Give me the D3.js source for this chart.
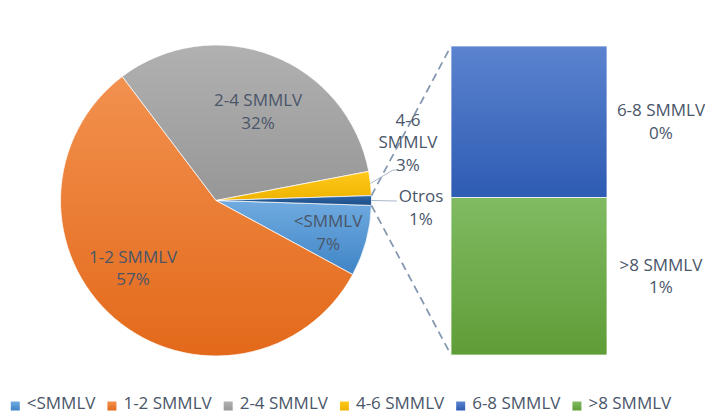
<!DOCTYPE html>
<html>
<head>
<meta charset="utf-8">
<script src="https://cdn.jsdelivr.net/npm/d3@7"></script>
<style>
  html, body { margin: 0; padding: 0; background: #ffffff; }
  svg { display: block; }
  text { font-family: "Open Sans", sans-serif; font-size: 17px; fill: #4a5669; }
</style>
</head>
<body>
<svg id="chart" width="705" height="414"></svg>
<script>
// ---- data ----
const categories = ["<SMMLV", "1-2 SMMLV", "2-4 SMMLV", "4-6 SMMLV", "6-8 SMMLV", ">8 SMMLV"];
const values = [7.4, 56.8, 32.3, 2.5, 0.49, 0.51];
const otherLabel = "Otros";
const splitCount = 2; // last two categories go to the bar
const colorsTop = ["#70abe0", "#f2914f", "#b1b1b1", "#ffca1c", "#5b83cf", "#80bb62"];
const colorsBottom = ["#3f84c6", "#e3691a", "#979797", "#efb300", "#2e5cb3", "#5f9d37"];
const otherTop = "#2d66a8", otherBottom = "#1d4d85";

// ---- layout ----
const svg = d3.select("#chart");
const cx = 216, cy = 200.5, r = 155.5;
const barX0 = 451, barX1 = 607, barY0 = 46, barY1 = 355;
const fmt = d3.format(".0%");
const total = d3.sum(values);

const pieCats = categories.slice(0, categories.length - splitCount);
const pieVals = values.slice(0, values.length - splitCount);
const barCats = categories.slice(categories.length - splitCount);
const barVals = values.slice(values.length - splitCount);
const otherVal = d3.sum(barVals);

const pieData = pieCats.map((c, i) => ({ name: c, value: pieVals[i], i, top: colorsTop[i], bot: colorsBottom[i] }));
pieData.push({ name: otherLabel, value: otherVal, i: -1, top: otherTop, bot: otherBottom });

const otherAngle = otherVal / total * 2 * Math.PI;
const start = Math.PI / 2 + otherAngle / 2;
const pie = d3.pie().sort(null).value(d => d.value).startAngle(start).endAngle(start + 2 * Math.PI);
const arcs = pie(pieData);
const arc = d3.arc().innerRadius(0).outerRadius(r);

const defs = svg.append("defs");
function grad(id, c0, c1) {
  const g = defs.append("linearGradient").attr("id", id).attr("x1", 0).attr("y1", 0).attr("x2", 0).attr("y2", 1);
  g.append("stop").attr("offset", "0%").attr("stop-color", c0);
  g.append("stop").attr("offset", "100%").attr("stop-color", c1);
}
categories.forEach((c, i) => grad("g" + i, colorsTop[i], colorsBottom[i]));
grad("gOther", otherTop, otherBottom);

const gPie = svg.append("g").attr("transform", `translate(${cx},${cy})`);
gPie.selectAll("path").data(arcs).enter().append("path")
  .attr("d", arc)
  .attr("fill", d => d.data.i >= 0 ? `url(#g${d.data.i})` : "url(#gOther)")
  .attr("stroke", "#ffffff").attr("stroke-width", 0.75);

// ---- connector lines (pie "Otros" slice to bar) ----
const otherArc = arcs[arcs.length - 1];
function edgePt(a) { return [cx + r * Math.sin(a), cy - r * Math.cos(a)]; }
const pTop = edgePt(otherArc.startAngle), pBot = edgePt(otherArc.endAngle);
svg.append("line").attr("x1", pTop[0]).attr("y1", pTop[1]).attr("x2", barX0).attr("y2", barY0)
  .attr("stroke", "#8497b0").attr("stroke-width", 1.75).attr("stroke-dasharray", "8,5");
svg.append("line").attr("x1", pBot[0]).attr("y1", pBot[1]).attr("x2", barX0).attr("y2", barY1)
  .attr("stroke", "#8497b0").attr("stroke-width", 1.75).attr("stroke-dasharray", "8,5");

// ---- bar of the split ----
const y = d3.scaleLinear().domain([0, otherVal]).range([barY1, barY0]);
const barSegs = barVals.map((v, k) => ({ name: barCats[k], value: v, idx: categories.length - splitCount + k }));
// stack: last category at bottom
let cum = 0;
const stacked = barSegs.slice().reverse().map(s => { const o = Object.assign({}, s, { y0: cum, y1: cum + s.value }); cum += s.value; return o; });
svg.append("g").selectAll("rect").data(stacked).enter().append("rect")
  .attr("x", barX0).attr("width", barX1 - barX0)
  .attr("y", d => y(d.y1)).attr("height", d => y(d.y0) - y(d.y1))
  .attr("fill", d => `url(#g${d.idx})`)
  .attr("stroke", "#ffffff").attr("stroke-width", 0.75);

const lineH = 22.5;
function twoLine(g, x, yc, lines) {
  const n = lines.length;
  const t = g.append("text").attr("text-anchor", "middle");
  lines.forEach((s, k) => {
    t.append("tspan").attr("x", x).attr("y", yc + 6 + (k - (n - 1) / 2) * lineH).text(s);
  });
}

// bar labels
stacked.forEach(d => {
  const yc = (y(d.y0) + y(d.y1)) / 2;
  twoLine(svg, barX1 + 54, yc, [d.name, fmt(d.value / total)]);
});

// ---- pie labels ----
const labelArc = d3.arc().innerRadius(r * 0.7).outerRadius(r * 0.7);
const nudges = { "<SMMLV": [7, 3.5], "1-2 SMMLV": [-12, -15], "2-4 SMMLV": [3, 12.5] };
arcs.forEach(a => {
  const nm = a.data.name;
  if (nudges[nm]) {
    const c = labelArc.centroid(a);
    twoLine(gPie, c[0] + nudges[nm][0], c[1] + nudges[nm][1], [nm, fmt(a.data.value / total)]);
  }
});

// outside labels with leader lines
function midA(a) { return (a.startAngle + a.endAngle) / 2; }
const a46 = arcs[3];
const e46 = edgePt(midA(a46));
svg.append("polyline").attr("points", `${e46[0]},${e46[1]} ${393},${170} ${398},${170}`)
  .attr("fill", "none").attr("stroke", "#a9b7ca").attr("stroke-width", 1);
twoLine(svg, 408, 142, ["4-6", "SMMLV", fmt(a46.data.value / total)]);

const aO = arcs[arcs.length - 1];
const eO = edgePt(midA(aO));
svg.append("polyline").attr("points", `${eO[0]},${eO[1]} ${397},${201}`)
  .attr("fill", "none").attr("stroke", "#a9b7ca").attr("stroke-width", 1);
twoLine(svg, 421, 207.5, [otherLabel, fmt(aO.data.value / total)]);

// ---- legend ----
const legend = svg.append("g");
const items = categories.map((c, i) => {
  const g = legend.append("g");
  g.append("rect").attr("width", 9).attr("height", 9).attr("y", 401.5).attr("fill", `url(#g${i})`);
  const t = g.append("text").attr("x", 16).attr("y", 409).text(c);
  return { g, w: 16 + t.node().getComputedTextLength() };
});
const gap = 12;
const totalW = d3.sum(items, d => d.w) + gap * (items.length - 1);
let lx = 341 - totalW / 2;
items.forEach(it => { it.g.attr("transform", `translate(${lx},0)`); lx += it.w + gap; });
</script>
</body>
</html>
